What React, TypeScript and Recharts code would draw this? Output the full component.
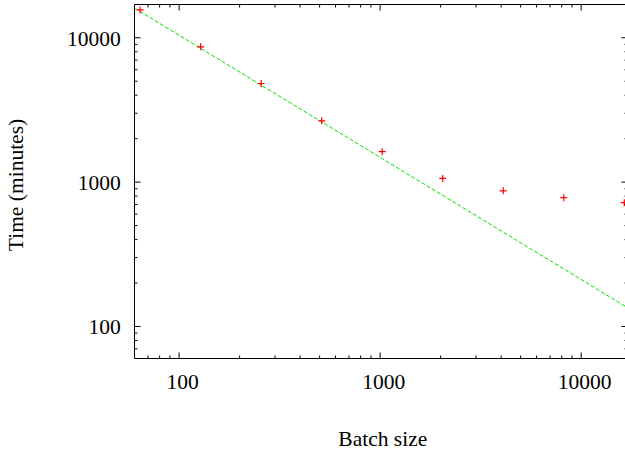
import React from 'react';
import { ScatterChart, Scatter, XAxis, YAxis, ReferenceLine } from 'recharts';

// ---- data ----
const batchSizes = [64, 128, 256, 512, 1024, 2048, 4096, 8192, 16384];
const timesMinutes = [15600, 8660, 4820, 2660, 1624, 1061, 871, 780, 720];
const fitX = [60, 17000];
const fitY = [16050, 135];
const xDomain = [60, 17000];
const yDomain = [60, 17000];
const majorTicks = [100, 1000, 10000];
const minorTicks = [70, 80, 90, 200, 300, 400, 500, 600, 700, 800, 900, 2000, 3000, 4000, 5000, 6000, 7000, 8000, 9000];
const xTitle = 'Batch size';
const yTitle = 'Time (minutes)';

const points = batchSizes.map((x, i) => ({ x, y: timesMinutes[i] }));
const fitData = fitX.map((x, i) => ({ x, y: fitY[i] }));

// ---- layout ----
const W = 640;
const H = 450;
const XAXIS_H = 30;
const YAXIS_W = 30;
const M = { top: 4.5, right: 12.5, bottom: 91.5 - XAXIS_H, left: 134.5 - YAXIS_W };
const PLOT_W = W - 134.5 - M.right;
const PLOT_H = H - M.top - 91.5;
const FONT = '"Liberation Serif", "Times New Roman", serif';
const FS = 21.5;

const XTick = (props: any) => {
  const { x, y, payload } = props;
  const v = payload.value;
  const major = majorTicks.includes(v);
  const len = major ? 6 : 3;
  return (
    <g>
      <line x1={x} x2={x} y1={y} y2={y - len} stroke="#000" strokeWidth={1} />
      <line x1={x} x2={x} y1={y - PLOT_H} y2={y - PLOT_H + len} stroke="#000" strokeWidth={1} />
      {major && (
        <text x={x + 3.5} y={y + 30} textAnchor="middle" fontFamily={FONT} fontSize={FS} fill="#000">
          {v}
        </text>
      )}
    </g>
  );
};

const YTick = (props: any) => {
  const { x, y, payload } = props;
  const v = payload.value;
  const major = majorTicks.includes(v);
  const len = major ? 6 : 3;
  return (
    <g>
      <line x1={x} x2={x + len} y1={y} y2={y} stroke="#000" strokeWidth={1} />
      <line x1={x + PLOT_W} x2={x + PLOT_W - len} y1={y} y2={y} stroke="#000" strokeWidth={1} />
      {major && (
        <text x={x - 13.8} y={y + 7.8} textAnchor="end" fontFamily={FONT} fontSize={FS} fill="#000">
          {v}
        </text>
      )}
    </g>
  );
};

const Plus = (props: any) => {
  const { cx, cy } = props;
  return (
    <g>
      <line x1={cx - 3.5} x2={cx + 3.5} y1={cy} y2={cy} stroke="#ff0000" strokeWidth={1.2} />
      <line x1={cx} x2={cx} y1={cy - 3.5} y2={cy + 3.5} stroke="#ff0000" strokeWidth={1.2} />
    </g>
  );
};

const NoShape = () => <g />;

export default function App() {
  return (
    <div style={{ position: 'fixed', left: 0, top: 0, width: 625, height: 450, overflow: 'hidden', background: '#fff' }}>
      <ScatterChart width={W} height={H} margin={M}>
        <XAxis
          dataKey="x"
          type="number"
          scale="log"
          domain={xDomain}
          allowDataOverflow
          ticks={[...majorTicks, ...minorTicks]}
          interval={0}
          tickSize={0}
          tickMargin={0}
          height={XAXIS_H}
          tick={<XTick />}
          axisLine={{ stroke: '#000', strokeWidth: 1 }}
        />
        <YAxis
          dataKey="y"
          type="number"
          scale="log"
          domain={yDomain}
          allowDataOverflow
          ticks={[...majorTicks, ...minorTicks]}
          interval={0}
          tickSize={0}
          tickMargin={0}
          width={YAXIS_W}
          tick={<YTick />}
          axisLine={{ stroke: '#000', strokeWidth: 1 }}
        />
        <ReferenceLine y={yDomain[1]} stroke="#000" strokeWidth={1} />
        <Scatter
          data={fitData}
          line={{ stroke: '#00e000', strokeWidth: 1, strokeDasharray: '4 2' }}
          shape={<NoShape />}
          isAnimationActive={false}
        />
        <Scatter data={points} shape={<Plus />} isAnimationActive={false} />
        <text x={382.8} y={446} textAnchor="middle" fontFamily={FONT} fontSize={FS} fill="#000">
          {xTitle}
        </text>
        <text
          x={23}
          y={185}
          transform="rotate(-90 23 185)"
          textAnchor="middle"
          fontFamily={FONT}
          fontSize={FS}
          fill="#000"
        >
          {yTitle}
        </text>
      </ScatterChart>
    </div>
  );
}
